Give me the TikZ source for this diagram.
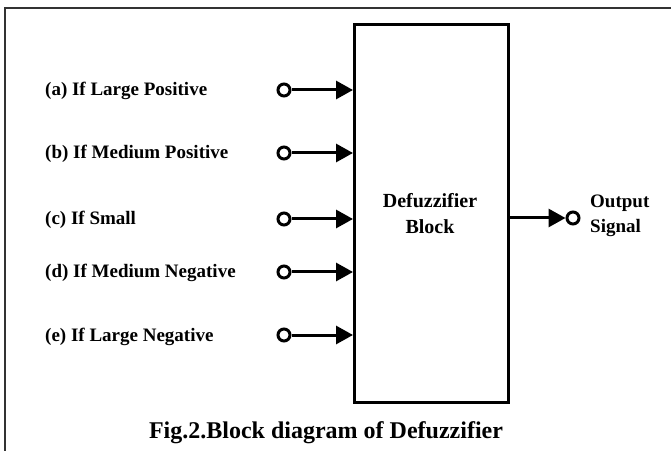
\documentclass[tikz,border=0pt]{standalone}
\usepackage{fontspec}
\setmainfont{Liberation Serif}
\usetikzlibrary{arrows.meta}
\begin{document}
\begin{tikzpicture}[x=1bp,y=-1bp,
  lab/.style={font=\fontsize{19bp}{22bp}\selectfont\bfseries, inner sep=0pt, anchor=base west},
  blktxt/.style={font=\fontsize{20bp}{24bp}\selectfont\bfseries, inner sep=0pt, anchor=base},
  term/.style={circle, draw, line width=3bp, minimum size=12bp, inner sep=0pt},
  conn/.style={line width=3bp, -{Triangle[length=17bp,width=18bp]}},
  ]
\useasboundingbox (0,0) rectangle (671,451);
\draw[line width=2bp, black!80] (5,451) -- (5,8) -- (671,8);
\node[draw, line width=3bp, minimum width=154bp, minimum height=378bp, inner sep=0pt, anchor=north west] (blk) at (353,23) {};
\node[blktxt] (dz1) at (430,208) {Defuzzifier};
\node[blktxt] (dz2) at (430,234) {Block};
% inputs
\node[term] (ta) at (284,90) {};
\node[term] (tb) at (284,153) {};
\node[term] (tc) at (284,219) {};
\node[term] (td) at (284,272) {};
\node[term] (te) at (284,335) {};
\node[lab] (la) at (45,96) {(a) If Large Positive};
\node[lab] (lb) at (45,159) {(b) If Medium Positive};
\node[lab] (lc) at (45,225) {(c) If Small};
\node[lab] (ld) at (45,278) {(d) If Medium Negative};
\node[lab] (le) at (45,341) {(e) If Large Negative};
\foreach \t in {ta,tb,tc,td,te}
  \draw[conn] (\t) -- (\t -| blk.west);
% output
\node[term] (to) at (573,218) {};
\draw[conn] (blk.east |- to) -- (to);
\node[lab] (o1) at (590,208) {Output};
\node[lab] (o2) at (590,233) {Signal};
% caption
\node[font=\fontsize{24bp}{27bp}\selectfont\bfseries, inner sep=0pt, anchor=base] (cap) at (326,438) {Fig.2.Block diagram of Defuzzifier};
\end{tikzpicture}
\end{document}
